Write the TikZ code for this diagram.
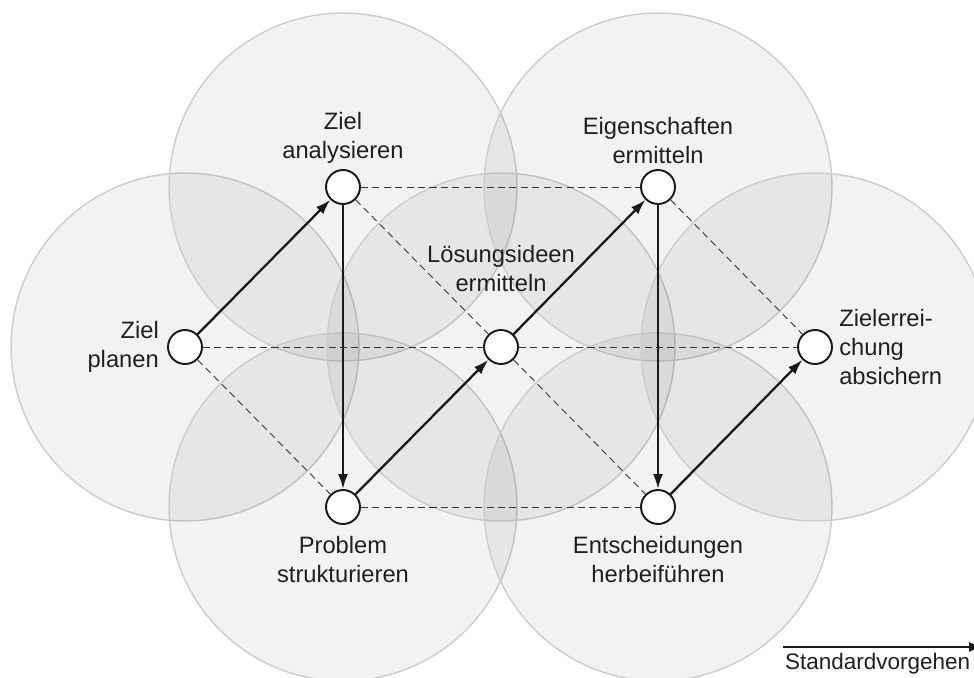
\documentclass[tikz,border=0pt]{standalone}
\usepackage{fontspec}
\setmainfont{Liberation Sans}
\usepackage{tikz}
\usetikzlibrary{arrows.meta, positioning, backgrounds}

\begin{document}
\begin{tikzpicture}[
        x=0.02cm, y=-0.02cm,
        node distance=4pt,
        stage/.style={circle, draw=black!90, line width=1.1pt, fill=white, minimum size=0.68cm, inner sep=0pt},
        zone/.style={draw=black!20, line width=0.8pt, fill=black, fill opacity=0.05},
        lbl/.style={font=\fontsize{13.5}{16.5}\selectfont, text=black!88, inner sep=0pt, align=center},
        arrow/.style={-{Latex[length=3mm, width=2mm]}, line width=1.3pt, black!90},
        link/.style={dash pattern=on 4pt off 2.5pt, line width=0.5pt, black!80}
    ]
        \useasboundingbox (0,0) rectangle (974,678);

        \node[stage] (plan) at (185,347) {};
        \node[stage] (ana)  at (343,187) {};
        \node[stage] (prob) at (343,507) {};
        \node[stage] (loes) at (501,347) {};
        \node[stage] (eig)  at (658,187) {};
        \node[stage] (ent)  at (658,507) {};
        \node[stage] (ziel) at (815,347) {};

        \begin{scope}[on background layer]
            \foreach \n in {plan,ana,prob,loes,eig,ent,ziel}
                \draw[zone] (\n.center) circle (3.48cm);
        \end{scope}

        \node[lbl, above=3pt of ana] (anatext) {Ziel\\analysieren};
        \node[lbl, above=3pt of eig] (eigtext) {Eigenschaften\\ermitteln};
        \node[lbl, above=21pt of loes] (loestext) {Lösungsideen\\ermitteln};
        \node[lbl, left=4.5pt of plan, align=right] (plantext) {Ziel\\planen};
        \node[lbl, right=3.4pt of ziel, align=left] (zieltext) {Zielerrei-\\chung\\absichern};
        \node[lbl, below=6pt of prob] (probtext) {Problem\\strukturieren};
        \node[lbl, below=6pt of ent] (enttext) {Entscheidungen\\herbeiführen};

        % gestrichelte Verbindungen
        \draw[link] (ana) -- (eig);
        \draw[link] (prob) -- (ent);
        \draw[link] (plan) -- (loes);
        \draw[link] (loes) -- (ziel);
        \draw[link] (plan) -- (prob);
        \draw[link] (ana) -- (loes);
        \draw[link] (loes) -- (ent);
        \draw[link] (eig) -- (ziel);

        % Standardvorgehen
        \draw[arrow] (plan) -- (ana);
        \draw[arrow] (ana) -- (prob);
        \draw[arrow] (prob) -- (loes);
        \draw[arrow] (loes) -- (eig);
        \draw[arrow] (eig) -- (ent);
        \draw[arrow] (ent) -- (ziel);

        \coordinate (sv1) at (783,647);
        \coordinate (sv2) at (984,647);
        \draw[arrow, line width=1.7pt] (sv1) -- (sv2);
        \node[lbl, font=\fontsize{12.8}{15}\selectfont, below right=3.5pt and 1pt of sv1] (svtext) {Standardvorgehen};
    \end{tikzpicture}
\end{document}
